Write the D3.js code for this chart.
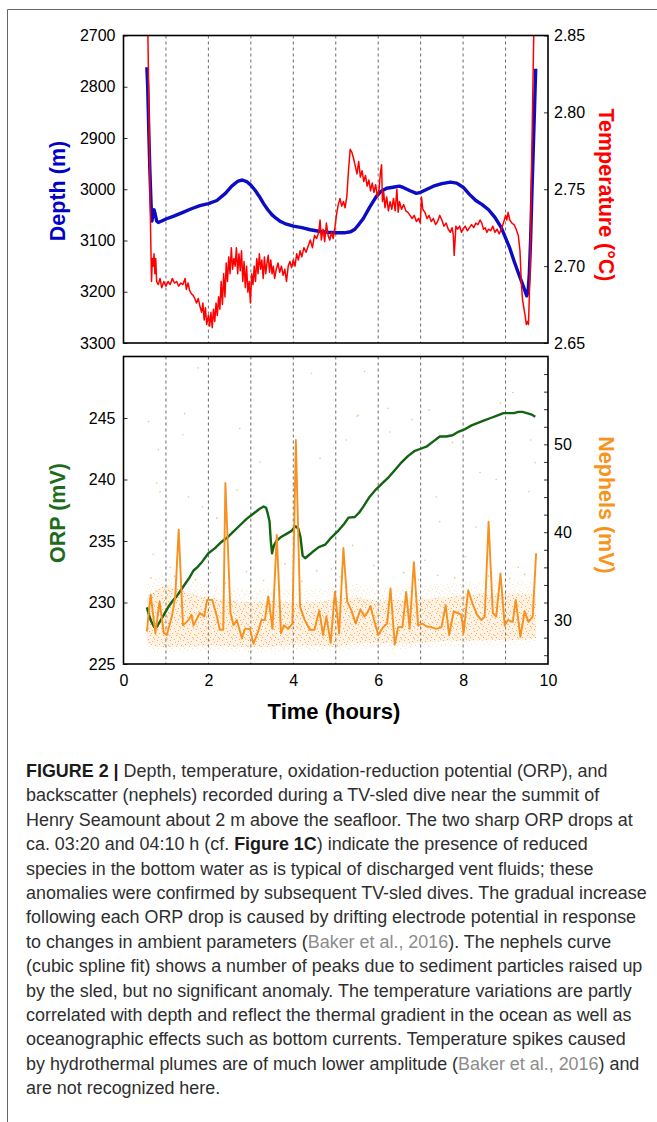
<!DOCTYPE html>
<html>
<head>
<meta charset="utf-8">
<script src="https://cdn.jsdelivr.net/npm/d3@7"></script>
<style>
  html, body { margin: 0; padding: 0; background: #fff; }
  svg { display: block; }
</style>
</head>
<body>
<svg id="chart" width="657" height="1122"></svg>
<script>
// ---------------- DATA ----------------
const timeTicks = [0, 2, 4, 6, 8, 10];
const gridHours = [1, 2, 3, 4, 5, 6, 7, 8, 9];
const depthTicks = [2700, 2800, 2900, 3000, 3100, 3200, 3300];
const tempTicks = [2.65, 2.70, 2.75, 2.80, 2.85];
const orpTicks = [225, 230, 235, 240, 245];
const nephTicks = [26, 28, 30, 32, 34, 36, 38, 40, 42, 44, 46, 48, 50, 52, 54, 56, 58];
const nephLabels = [30, 40, 50];

// depth (m) vs time (h)
const depth = [
  [0.55,2762],[0.57,2800],[0.60,2900],[0.62,2960],[0.65,3030],[0.67,3062],[0.70,3045],[0.72,3040],
  [0.75,3050],[0.78,3062],[0.82,3065],[0.90,3062],[1.00,3058],[1.20,3052],[1.40,3045],[1.60,3038],
  [1.80,3032],[2.00,3028],[2.20,3022],[2.40,3008],[2.55,2994],[2.70,2984],[2.80,2982],[2.90,2985],
  [3.00,2992],[3.10,3002],[3.20,3014],[3.30,3028],[3.40,3040],[3.50,3050],[3.60,3057],[3.70,3063],
  [3.80,3067],[4.00,3072],[4.20,3075],[4.40,3079],[4.60,3082],[4.80,3084],[5.00,3085],[5.20,3085],
  [5.35,3083],[5.45,3078],[5.55,3068],[5.65,3057],[5.80,3035],[5.95,3015],[6.05,3005],[6.20,2998],
  [6.35,2996],[6.50,2994],[6.60,2997],[6.75,3003],[6.90,3008],[7.00,3006],[7.15,3000],[7.30,2994],
  [7.50,2989],[7.70,2986],[7.85,2988],[8.00,2996],[8.15,3010],[8.30,3022],[8.45,3030],[8.60,3040],
  [8.75,3055],[8.90,3075],[9.00,3095],[9.10,3115],[9.20,3140],[9.30,3163],[9.40,3185],[9.50,3208],
  [9.53,3200],[9.56,3165],[9.59,3100],[9.62,3010],[9.65,2930],[9.68,2850],[9.71,2765]
];

// temperature (°C) vs time (h)
const temperature = [
  [0.57,2.86],[0.60,2.80],[0.62,2.76],[0.64,2.72],[0.66,2.69],[0.68,2.705],[0.70,2.70],[0.72,2.708],
  [0.74,2.695],[0.76,2.705],[0.78,2.69],[0.82,2.688],[0.86,2.692],[0.90,2.686],[0.95,2.69],[1.00,2.687],
  [1.05,2.690],[1.10,2.688],[1.15,2.692],[1.20,2.689],[1.25,2.690],[1.30,2.687],[1.35,2.689],[1.40,2.688],
  [1.45,2.692],[1.48,2.685],[1.52,2.689],[1.56,2.684],[1.60,2.682],[1.64,2.681],[1.68,2.679],[1.72,2.676],
  [1.76,2.679],[1.80,2.674],[1.84,2.670],[1.87,2.676],[1.90,2.665],[1.93,2.673],[1.96,2.662],[2.00,2.668],
  [2.03,2.661],[2.06,2.670],[2.09,2.660],[2.12,2.672],[2.15,2.664],[2.18,2.676],[2.21,2.668],[2.24,2.680],
  [2.27,2.672],[2.30,2.690],[2.33,2.675],[2.36,2.695],[2.39,2.680],[2.42,2.702],[2.45,2.690],[2.48,2.706],
  [2.51,2.695],[2.54,2.712],[2.57,2.698],[2.60,2.705],[2.63,2.700],[2.66,2.712],[2.69,2.695],[2.72,2.708],
  [2.75,2.697],[2.78,2.710],[2.81,2.690],[2.84,2.703],[2.87,2.686],[2.90,2.700],[2.93,2.683],[2.96,2.690],
  [2.99,2.676],[3.02,2.695],[3.05,2.688],[3.08,2.700],[3.11,2.690],[3.14,2.705],[3.17,2.695],[3.20,2.708],
  [3.23,2.698],[3.26,2.704],[3.29,2.692],[3.32,2.706],[3.35,2.695],[3.38,2.702],[3.41,2.707],[3.44,2.696],
  [3.47,2.704],[3.50,2.695],[3.53,2.700],[3.56,2.692],[3.60,2.698],[3.64,2.702],[3.68,2.696],[3.72,2.700],
  [3.76,2.694],[3.80,2.698],[3.84,2.690],[3.88,2.700],[3.92,2.703],[3.96,2.699],[4.00,2.704],[4.04,2.700],
  [4.08,2.708],[4.12,2.704],[4.16,2.710],[4.20,2.706],[4.25,2.712],[4.30,2.709],[4.35,2.713],[4.40,2.717],
  [4.45,2.712],[4.50,2.720],[4.55,2.718],[4.60,2.722],[4.63,2.730],[4.66,2.717],[4.70,2.724],[4.74,2.716],
  [4.78,2.728],[4.82,2.720],[4.86,2.717],[4.90,2.722],[4.94,2.718],[4.98,2.725],[5.02,2.734],[5.06,2.740],
  [5.10,2.744],[5.14,2.739],[5.18,2.742],[5.22,2.738],[5.26,2.745],[5.30,2.762],[5.34,2.776],[5.38,2.774],
  [5.42,2.770],[5.46,2.765],[5.50,2.760],[5.54,2.768],[5.58,2.758],[5.62,2.762],[5.66,2.755],[5.70,2.759],
  [5.74,2.752],[5.78,2.756],[5.82,2.749],[5.86,2.754],[5.90,2.748],[5.94,2.753],[5.98,2.745],[6.02,2.750],
  [6.05,2.760],[6.08,2.766],[6.10,2.742],[6.13,2.748],[6.16,2.738],[6.20,2.745],[6.24,2.736],[6.28,2.742],
  [6.32,2.737],[6.36,2.744],[6.40,2.736],[6.44,2.750],[6.47,2.735],[6.50,2.742],[6.55,2.737],[6.60,2.740],
  [6.65,2.736],[6.70,2.735],[6.75,2.733],[6.80,2.731],[6.85,2.733],[6.90,2.729],[6.95,2.731],[6.99,2.728],
  [7.02,2.745],[7.05,2.737],[7.10,2.735],[7.15,2.731],[7.20,2.733],[7.25,2.729],[7.30,2.731],[7.35,2.727],
  [7.40,2.729],[7.45,2.733],[7.50,2.730],[7.55,2.726],[7.60,2.728],[7.65,2.724],[7.70,2.722],[7.74,2.725],
  [7.77,2.720],[7.79,2.707],[7.81,2.716],[7.83,2.726],[7.87,2.724],[7.92,2.726],[7.96,2.722],[8.00,2.724],
  [8.05,2.726],[8.10,2.723],[8.15,2.725],[8.20,2.727],[8.25,2.725],[8.30,2.728],[8.35,2.727],[8.40,2.730],
  [8.44,2.728],[8.48,2.724],[8.52,2.725],[8.56,2.722],[8.60,2.724],[8.65,2.723],[8.70,2.726],[8.75,2.722],
  [8.80,2.724],[8.85,2.721],[8.90,2.724],[8.95,2.728],[9.00,2.733],[9.03,2.730],[9.06,2.735],[9.10,2.730],
  [9.15,2.728],[9.20,2.727],[9.25,2.724],[9.30,2.720],[9.34,2.710],[9.37,2.690],[9.40,2.678],[9.43,2.673],
  [9.46,2.668],[9.49,2.662],[9.52,2.664],[9.54,2.662],[9.56,2.680],[9.58,2.700],[9.61,2.760],[9.64,2.810],
  [9.67,2.86]
];

// ORP (mV) vs time (h)
const orp = [
  [0.55,229.6],[0.60,229.0],[0.65,228.5],[0.72,228.0],[0.78,228.0],[0.85,228.4],[0.95,229.0],[1.05,229.6],
  [1.15,230.1],[1.25,230.5],[1.35,231.0],[1.45,231.5],[1.55,232.0],[1.65,232.6],[1.75,232.9],[1.85,233.3],
  [2.00,234.0],[2.15,234.4],[2.30,234.9],[2.45,235.3],[2.60,235.8],[2.75,236.3],[2.90,236.8],[3.05,237.2],
  [3.20,237.6],[3.30,237.8],[3.36,237.7],[3.40,237.2],[3.44,236.6],[3.47,235.0],[3.50,234.0],[3.54,234.6],
  [3.60,235.0],[3.70,235.3],[3.85,235.6],[3.95,235.8],[4.05,236.2],[4.12,236.0],[4.17,235.3],[4.22,233.8],
  [4.28,233.6],[4.35,233.8],[4.45,234.1],[4.60,234.5],[4.75,234.7],[4.90,235.3],[5.05,235.8],[5.20,236.4],
  [5.30,236.9],[5.45,236.95],[5.55,237.3],[5.65,237.8],[5.80,238.6],[5.95,239.2],[6.10,239.7],[6.25,240.2],
  [6.40,240.8],[6.55,241.4],[6.70,241.9],[6.85,242.3],[7.00,242.5],[7.15,242.7],[7.30,243.1],[7.45,243.5],
  [7.60,243.5],[7.75,243.6],[7.90,243.9],[8.05,244.1],[8.20,244.4],[8.35,244.6],[8.50,244.8],[8.65,245.0],
  [8.80,245.2],[8.95,245.4],[9.10,245.4],[9.20,245.4],[9.30,245.5],[9.40,245.5],[9.50,245.4],[9.60,245.3],
  [9.70,245.1]
];

// Nephels spline fit (mV) vs time (h)
const nephels = [
  [0.55,28.7],[0.64,32.9],[0.75,28.5],[0.85,32.1],[0.95,28.5],[1.02,28.3],[1.14,30.4],[1.22,32.7],
  [1.30,40.3],[1.40,29.4],[1.53,30.0],[1.60,30.6],[1.65,29.4],[1.80,30.8],[1.90,30.4],[1.97,32.3],
  [2.09,32.3],[2.20,30.4],[2.27,28.9],[2.35,28.9],[2.40,45.6],[2.52,30.8],[2.59,29.4],[2.67,30.0],
  [2.79,27.9],[2.86,29.0],[2.98,29.0],[3.06,27.3],[3.18,28.8],[3.25,30.0],[3.33,30.0],[3.41,32.7],
  [3.51,29.0],[3.61,39.7],[3.71,28.5],[3.78,29.4],[3.88,29.0],[3.98,29.6],[4.06,50.5],[4.16,31.5],
  [4.27,30.0],[4.39,28.9],[4.50,28.9],[4.61,31.1],[4.70,28.3],[4.78,30.4],[4.88,27.4],[4.98,33.2],
  [5.08,28.5],[5.18,38.2],[5.27,32.1],[5.37,31.1],[5.47,29.6],[5.58,31.2],[5.68,30.4],[5.75,30.9],
  [5.82,31.6],[5.88,30.4],[6.00,28.3],[6.12,29.2],[6.21,29.6],[6.29,33.6],[6.39,27.2],[6.47,29.2],
  [6.57,29.2],[6.66,33.2],[6.74,29.0],[6.84,36.6],[6.94,29.4],[7.04,29.6],[7.13,29.3],[7.25,29.2],
  [7.37,29.0],[7.49,29.2],[7.59,31.7],[7.67,28.3],[7.78,31.0],[7.88,30.8],[7.96,30.6],[8.01,28.5],
  [8.12,33.4],[8.22,31.9],[8.33,30.6],[8.43,30.0],[8.51,30.4],[8.60,41.2],[8.70,30.8],[8.78,30.4],
  [8.88,35.3],[8.98,29.4],[9.06,30.0],[9.17,29.8],[9.24,32.3],[9.35,28.1],[9.45,31.0],[9.54,29.8],
  [9.64,30.4],[9.72,37.6]
];

// envelope of the dense cloud of raw nephels readings
const cloudTime = [0.55,0.8,1.0,1.3,1.6,2.0,2.5,3.0,3.5,4.0,4.5,5.0,5.5,6.0,6.5,7.0,7.5,8.0,8.5,9.0,9.5,9.72];
const cloudLow  = [27.3,27.0,26.9,27.0,27.0,27.1,27.0,26.9,27.0,27.2,27.1,27.0,27.3,27.4,27.3,27.4,27.6,27.6,27.7,27.7,27.8,28.0];
const cloudHigh = [32.5,33.5,34.0,33.5,33.0,32.6,32.3,32.0,32.2,32.0,32.0,32.4,32.6,32.2,32.3,32.4,32.6,32.8,33.0,33.0,33.0,32.8];

// sparse raw nephels readings above the cloud
const nephRaw = [
  [0.59,52.6],[0.78,45.6],[0.82,49.4],[0.86,44.6],[1.40,51.1],[1.44,53.5],[1.53,44.0],[1.76,58.7],
  [1.86,42.9],[2.20,41.6],[2.67,44.8],[2.74,51.8],[3.22,48.0],[4.00,45.2],[4.43,58.1],[4.63,48.4],
  [5.25,50.5],[5.50,53.2],[5.53,53.3],[5.68,58.3],[6.23,54.1],[6.27,51.4],[6.80,52.8],[7.20,53.9],
  [7.37,44.0],[7.45,41.2],[7.55,51.0],[7.75,50.2],[8.30,40.6],[8.40,46.8],[8.78,46.0],[8.88,54.7],
  [9.17,55.9],[9.55,44.6],[9.59,50.5],[9.70,47.9],[0.70,37.5],[1.10,36.0],[2.90,35.5],[3.80,36.4],
  [4.90,35.8],[5.90,36.2],[6.60,35.4],[7.10,36.8],[8.05,37.2],[9.30,36.0],[0.95,39.0],[5.40,38.5],
  [0.65,34.8],[1.20,35.0],[1.70,34.6],[2.40,34.2],[3.30,34.5],[4.20,34.4],[5.10,34.9],[6.00,34.3],
  [6.95,34.6],[7.80,34.8],[8.60,35.0],[9.10,34.7],[9.45,35.2],[2.05,35.4],[4.55,35.6],[7.40,35.1]
];

const captionLines = [
  [["b","FIGURE 2 | "],["n","Depth, temperature, oxidation-reduction potential (ORP), and"]],
  [["n","backscatter (nephels) recorded during a TV-sled dive near the summit of"]],
  [["n","Henry Seamount about 2 m above the seafloor. The two sharp ORP drops at"]],
  [["n","ca. 03:20 and 04:10 h (cf. "],["b","Figure 1C"],["n",") indicate the presence of reduced"]],
  [["n","species in the bottom water as is typical of discharged vent fluids; these"]],
  [["n","anomalies were confirmed by subsequent TV-sled dives. The gradual increase"]],
  [["n","following each ORP drop is caused by drifting electrode potential in response"]],
  [["n","to changes in ambient parameters ("],["g","Baker et al., 2016"],["n","). The nephels curve"]],
  [["n","(cubic spline fit) shows a number of peaks due to sediment particles raised up"]],
  [["n","by the sled, but no significant anomaly. The temperature variations are partly"]],
  [["n","correlated with depth and reflect the thermal gradient in the ocean as well as"]],
  [["n","oceanographic effects such as bottom currents. Temperature spikes caused"]],
  [["n","by hydrothermal plumes are of much lower amplitude ("],["g","Baker et al., 2016"],["n",") and"]],
  [["n","are not recognized here."]]
];

// ---------------- DRAWING ----------------
(function draw() {
const svg = d3.select("#chart");
const FONT = "'Liberation Sans', Arial, Helvetica, sans-serif";

svg.append("rect").attr("width", 657).attr("height", 1122).attr("fill", "#fff");

// figure frame
svg.append("path").attr("d", "M657,9.5H7.5V1122").attr("fill", "none").attr("stroke", "#666").attr("stroke-width", 1);

const X0 = 123.5, X1 = 548;
const T0 = 35.5, T1 = 343;
const B0 = 356.5, B1 = 664;

const x = d3.scaleLinear([0, 10], [X0, X1]);
const yDepth = d3.scaleLinear([2700, 3300], [T0, T1]);
const yTemp = d3.scaleLinear([2.65, 2.85], [T1, T0]);
const yOrp = d3.scaleLinear([225, 250], [B1, B0]);
const yNeph = d3.scaleLinear([25, 60], [B1, B0]);

const defs = svg.append("defs");
defs.append("clipPath").attr("id", "clipTop").append("rect")
  .attr("x", X0).attr("y", T0).attr("width", X1 - X0).attr("height", T1 - T0);
defs.append("clipPath").attr("id", "clipBot").append("rect")
  .attr("x", X0).attr("y", B0).attr("width", X1 - X0).attr("height", B1 - B0);

// speckle texture for the dense point cloud (fill style only)
const speck = defs.append("pattern").attr("id", "speckle").attr("patternUnits", "userSpaceOnUse")
  .attr("width", 13).attr("height", 11);
[[1,2],[5,1],[9,3],[12,7],[3,6],[7,8],[10,10],[2,10],[6,4],[11,0.5],[0.5,8],[8,6]].forEach(p =>
  speck.append("rect").attr("x", p[0]).attr("y", p[1]).attr("width", 1).attr("height", 1)
    .attr("fill", "#f7941d").attr("fill-opacity", 0.6));

function grid(y0, y1) {
  svg.append("g").selectAll("line").data(gridHours).join("line")
    .attr("x1", d => x(d)).attr("x2", d => x(d))
    .attr("y1", y0).attr("y2", y1)
    .attr("stroke", "#444").attr("stroke-width", 0.8).attr("stroke-dasharray", "3,3");
}
grid(T0, T1);
grid(B0, B1);

function styleAxis(g) {
  g.select(".domain").remove();
  g.selectAll(".tick line").attr("stroke", "#333").attr("stroke-width", 1);
  g.selectAll("text").attr("font-family", FONT).attr("font-size", 16).attr("fill", "#000");
}

// ---- top panel ----
const topG = svg.append("g").attr("clip-path", "url(#clipTop)");
topG.append("path").datum(depth)
  .attr("d", d3.line().x(d => x(d[0])).y(d => yDepth(d[1])))
  .attr("fill", "none").attr("stroke", "#0c0cc4").attr("stroke-width", 3.4)
  .attr("stroke-linejoin", "round");
topG.append("path").datum(temperature)
  .attr("d", d3.line().x(d => x(d[0])).y(d => yTemp(d[1])))
  .attr("fill", "none").attr("stroke", "#ff0000").attr("stroke-width", 1.5)
  .attr("stroke-linejoin", "round");

svg.append("g").attr("transform", `translate(${X0},0)`)
  .call(d3.axisLeft(yDepth).tickValues(depthTicks).tickSize(-4).tickPadding(8).tickFormat(d3.format("d")))
  .call(styleAxis);
svg.append("g").attr("transform", `translate(${X1},0)`)
  .call(d3.axisRight(yTemp).tickValues(tempTicks).tickSize(-4).tickPadding(6).tickFormat(d3.format(".2f")))
  .call(styleAxis);

svg.append("rect").attr("x", X0).attr("y", T0).attr("width", X1 - X0).attr("height", T1 - T0)
  .attr("fill", "none").attr("stroke", "#000").attr("stroke-width", 1.6);

// ---- bottom panel ----
const botG = svg.append("g").attr("clip-path", "url(#clipBot)");
const cloudData = cloudTime.map((t, i) => ({ t, lo: cloudLow[i], hi: cloudHigh[i] }));
botG.append("path").datum(cloudData)
  .attr("d", d3.area().x(d => x(d.t)).y0(d => yNeph(d.lo - 0.6)).y1(d => yNeph(d.hi + 1.5)).curve(d3.curveMonotoneX))
  .attr("fill", "url(#speckle)").attr("opacity", 0.45);
botG.append("path").datum(cloudData)
  .attr("d", d3.area().x(d => x(d.t)).y0(d => yNeph(d.lo)).y1(d => yNeph(d.hi)).curve(d3.curveMonotoneX))
  .attr("fill", "#f7941d").attr("fill-opacity", 0.12);
botG.append("path").datum(cloudData)
  .attr("d", d3.area().x(d => x(d.t)).y0(d => yNeph(d.lo)).y1(d => yNeph(d.hi)).curve(d3.curveMonotoneX))
  .attr("fill", "url(#speckle)");
botG.append("g").selectAll("circle").data(nephRaw).join("circle")
  .attr("cx", d => x(d[0])).attr("cy", d => yNeph(d[1])).attr("r", 0.8)
  .attr("fill", "#f7941d").attr("fill-opacity", 0.6);

botG.append("path").datum(orp)
  .attr("d", d3.line().x(d => x(d[0])).y(d => yOrp(d[1])))
  .attr("fill", "none").attr("stroke", "#126312").attr("stroke-width", 2.4)
  .attr("stroke-linejoin", "round");
botG.append("path").datum(nephels)
  .attr("d", d3.line().x(d => x(d[0])).y(d => yNeph(d[1])))
  .attr("fill", "none").attr("stroke", "#f7901e").attr("stroke-width", 1.9)
  .attr("stroke-linejoin", "round");

svg.append("g").attr("transform", `translate(${X0},0)`)
  .call(d3.axisLeft(yOrp).tickValues(orpTicks).tickSize(-4).tickPadding(8))
  .call(styleAxis);
svg.append("g").attr("transform", `translate(${X1},0)`)
  .call(d3.axisRight(yNeph).tickValues(nephTicks).tickSize(-4).tickPadding(6)
    .tickFormat(d => nephLabels.includes(d) ? d : ""))
  .call(styleAxis);
svg.append("g").attr("transform", `translate(0,${B1})`)
  .call(d3.axisBottom(x).tickValues(timeTicks).tickSize(0).tickPadding(11))
  .call(styleAxis);

svg.append("rect").attr("x", X0).attr("y", B0).attr("width", X1 - X0).attr("height", B1 - B0)
  .attr("fill", "none").attr("stroke", "#000").attr("stroke-width", 1.6);

// ---- axis titles ----
function title(txt, tx, ty, rot, color, size) {
  svg.append("text").attr("transform", `translate(${tx},${ty}) rotate(${rot})`)
    .attr("text-anchor", "middle").attr("font-family", FONT).attr("font-weight", "bold")
    .attr("font-size", size).attr("fill", color).text(txt);
}
title("Depth (m)", 65, 191, -90, "#0000c8", 21.5);
title("Temperature (°C)", 599, 195, 90, "#ff0000", 21.5);
title("ORP (mV)", 65, 513, -90, "#1d6b1d", 21.5);
title("Nephels (mV)", 599, 505, 90, "#f7941d", 21.5);
title("Time (hours)", 334, 719, 0, "#000", 22);

// ---- caption (Helvetica-like, horizontally condensed) ----
const CAP_SIZE = 18.5;
const cap = svg.append("g");
const capTexts = captionLines.map((line, i) => {
  const t = cap.append("text").attr("x", 0).attr("y", 0)
    .attr("font-family", FONT).attr("font-size", CAP_SIZE).attr("fill", "#2e2e2e");
  line.forEach(([kind, s]) => {
    const sp = t.append("tspan").text(s);
    if (kind === "b") sp.attr("font-weight", "bold").attr("fill", "#1a1a1a");
    if (kind === "g") sp.attr("fill", "#8c8c8c");
  });
  return t;
});
const refLen = capTexts[5].node().getComputedTextLength();
const sx = 621 / refLen;
capTexts.forEach((t, i) => t.attr("transform", `translate(26,${777 + i * 24.4}) scale(${sx.toFixed(4)},1)`));
})();
</script>
</body>
</html>
